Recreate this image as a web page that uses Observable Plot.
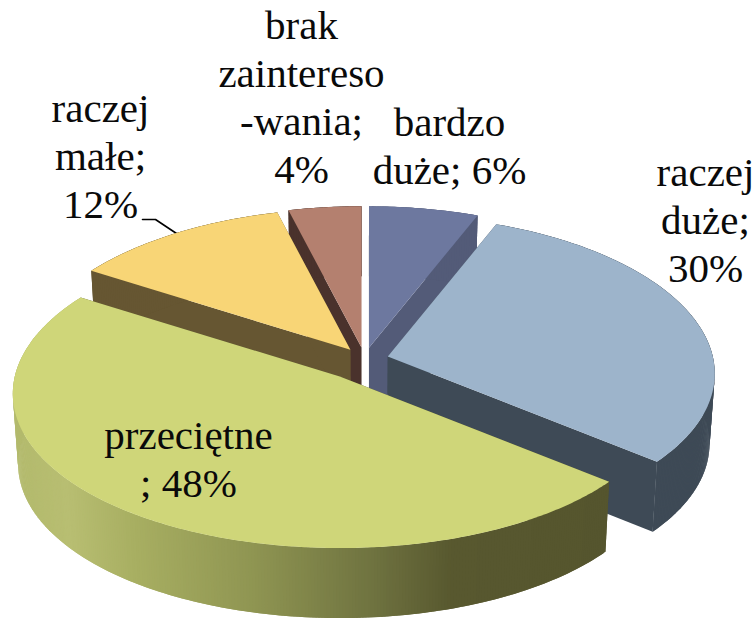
<!DOCTYPE html>
<html>
<head>
<meta charset="utf-8">
<script src="https://cdn.jsdelivr.net/npm/d3@7"></script>
<script src="https://cdn.jsdelivr.net/npm/@observablehq/plot@0.6"></script>
<style>html,body{margin:0;padding:0;background:#fff}svg{display:block}</style>
</head>
<body>
<div id="chart"></div>
<script>
// Data, clockwise from 12 o'clock
const categories = ["bardzo duże", "raczej duże", "przeciętne", "raczej małe", "brak zainteresowania"];
const shares = [6, 30, 48, 12, 4];
const explosions = [24, 24, 42, 24, 24];
const topColors = ["#6d789f", "#9db4cb", "#cfd679", "#f8d576", "#b4806f"];
const wallColors = ["#535b78", "#3e4a56", null, "#665632", "#4a322c"];
const drawOrder = [4, 0, 3, 1, 2];
const labelLines = [
  ["bardzo", "duże; 6%"],
  ["raczej", "duże;", "30%"],
  ["przeciętne", "; 48%"],
  ["raczej", "małe;", "12%"],
  ["brak", "zaintereso", "-wania;", "4%"]
];
const labelAnchors = [[449, 137], [705, 187], [188, 450], [100, 123], [301, 40]];

// 3D pie geometry
const W = 753, H = 619;
const cx = 364, cy = 359, R = 325, Rk = 155, perspY = 0.0966, perspX = 0.11, depth = 70, lean = 0.985, ky = 0.5;
const rad = d => d * Math.PI / 180;
const greenRim = d3.scaleLinear()
  .domain([15, 65, 130, 250, 370, 450, 610])
  .range(["#b3ba6d", "#b8be72", "#a8af62", "#8f9552", "#6f7340", "#58582f", "#55552e"])
  .clamp(true);

let cum = 0;
const slices = shares.map((v, i) => {
  const a0 = cum / 100 * 360; cum += v;
  const a1 = cum / 100 * 360;
  const mid = rad((a0 + a1) / 2);
  return {i, a0, a1, ax: cx + explosions[i] * Math.sin(mid), ay: cy - explosions[i] * ky * Math.cos(mid)};
});
function rimPoint(s, deg) {
  const X = Math.sin(rad(deg)), Z = -Math.cos(rad(deg));
  return [s.ax + R * X / (1 - perspX * Z), s.ay + Rk * Z / (1 - perspY * Z)];
}
const down = ([x, y]) => [cx + (x - cx) * lean, y + depth];

const rows = [];
let nid = 0;
function poly(points, color) {
  const id = nid++;
  for (const [x, y] of points) rows.push({id, x, y, color});
}
for (const i of drawOrder) {
  const s = slices[i];
  const apex = [s.ax, s.ay];
  const rim = d3.range(s.a0, s.a1, 0.5).concat(s.a1).map(d => rimPoint(s, d));
  const wall = wallColors[i];
  const last = rim[rim.length - 1];
  poly([apex, rim[0], down(rim[0]), down(apex)], wall || "#55552e");
  poly([apex, last, down(last), down(apex)], wall || "#55552e");
  // outer side: overlapping bands so that no seams show
  for (let j = 0; j < rim.length - 1; j++) {
    const a = rim[j], b = rim[Math.min(j + 2, rim.length - 1)];
    poly([a, b, down(b), down(a)], wall || greenRim(rim[j + 1][0]));
  }
  poly([apex, ...rim], topColors[i]);
}

const labels = labelLines.flatMap((lines, i) =>
  lines.map((text, j) => ({text, x: labelAnchors[i][0], y: labelAnchors[i][1] + j * 48}))
);
const leader = [{x: 142, y: 219}, {x: 155, y: 219}, {x: 176, y: 233}];

const chart = Plot.plot({
  width: W, height: H,
  margin: 0,
  x: {domain: [0, W], range: [0, W], axis: null},
  y: {domain: [0, H], range: [0, H], axis: null},
  style: {background: "#fff"},
  marks: [
    Plot.line(leader, {x: "x", y: "y", stroke: "#000", strokeWidth: 1.6}),
    Plot.line(rows, {x: "x", y: "y", z: "id", fill: "color", stroke: "none", curve: "linear-closed"}),
    Plot.text(labels, {
      x: "x", y: "y", text: "text",
      fontFamily: "Liberation Serif", fontSize: 41, fill: "#0a0a0a",
      textAnchor: "middle", lineAnchor: "bottom", dy: -2
    })
  ]
});
document.getElementById("chart").append(chart);
</script>
</body>
</html>
